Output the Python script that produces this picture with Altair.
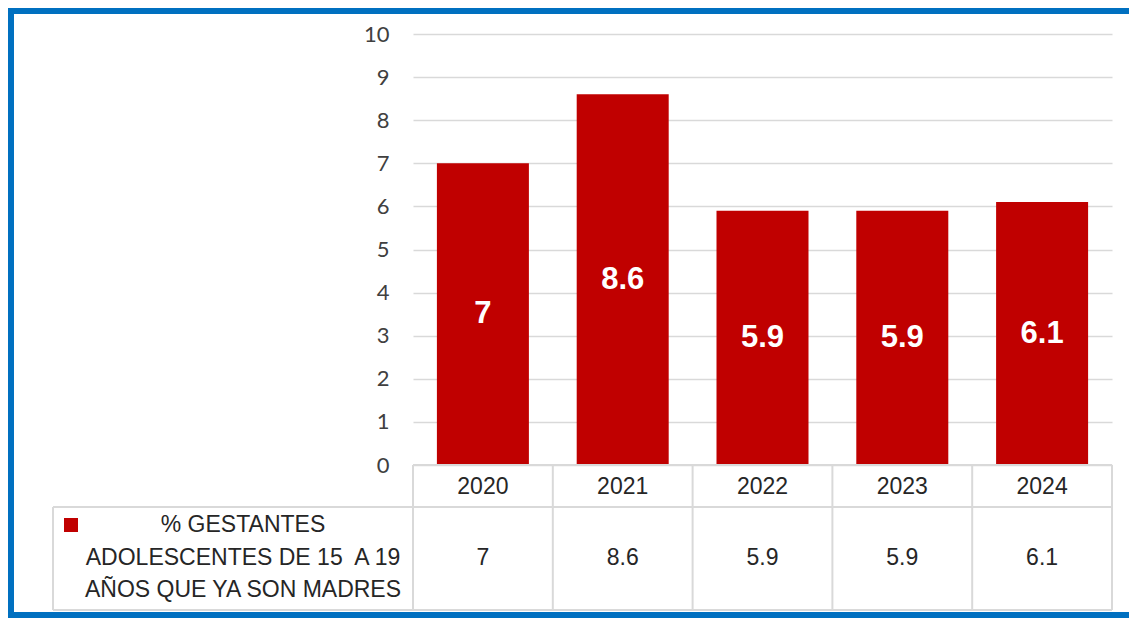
import altair as alt
import pandas as pd

# ---- data ----
years = [2020, 2021, 2022, 2023, 2024]
values = [7, 8.6, 5.9, 5.9, 6.1]
series_label = "% GESTANTES\nADOLESCENTES DE 15\u00a0 A 19\nAÑOS QUE YA SON MADRES"
y_ticks = [0, 1, 2, 3, 4, 5, 6, 7, 8, 9, 10]

# ---- layout (in data units of the scales) ----
X_MIN, X_MAX = years[0] - 0.5, years[-1] + 0.5
PX_PER_X = 699 / (X_MAX - X_MIN)
PX_PER_Y = 431 / 10
HEADER_BOTTOM = -42 / PX_PER_Y
TABLE_BOTTOM = -145 / PX_PER_Y
LEGEND_LEFT = X_MIN - 360 / PX_PER_X
Y_HEADER_TEXT = -22 / PX_PER_Y
Y_ROW_TEXT = -93 / PX_PER_Y
LEGEND_TEXT_X = X_MIN - 170 / PX_PER_X
LEGEND_TEXT_Y = -60 / PX_PER_Y
SWATCH_X = X_MIN - 342 / PX_PER_X
SWATCH_Y = -60 / PX_PER_Y

RED = "#C00000"
GRID = "#D9D9D9"
TXT = "#262626"

df = pd.DataFrame({"year": years, "value": values})

xs = alt.Scale(domain=[X_MIN, X_MAX], nice=False, zero=False, padding=0)
ys = alt.Scale(domain=[TABLE_BOTTOM, 10], nice=False, zero=False, padding=0)

base = alt.Chart(df)

bars = base.mark_bar(size=92, color=RED).encode(
    x=alt.X("year:Q", scale=xs, axis=None),
    y=alt.Y("value:Q", scale=ys,
            axis=alt.Axis(values=y_ticks, grid=True, gridColor=GRID, gridWidth=1.5,
                          domain=False, ticks=False, labelPadding=24,
                          labelFont="Lato", labelFontSize=22, labelColor="#404040",
                          title=None)),
)

bar_labels = base.transform_calculate(mid="datum.value / 2").mark_text(
    font="Liberation Sans", fontSize=31, fontWeight="bold", color="white", baseline="middle"
).encode(
    x=alt.X("year:Q", scale=xs),
    y=alt.Y("mid:Q", scale=ys),
    text=alt.Text("value:Q"),
)

# table lines
lines = []
lines.append({"x": X_MIN, "x2": X_MAX, "y": 0, "y2": 0})
lines.append({"x": LEGEND_LEFT, "x2": X_MAX, "y": HEADER_BOTTOM, "y2": HEADER_BOTTOM})
lines.append({"x": LEGEND_LEFT, "x2": X_MAX, "y": TABLE_BOTTOM, "y2": TABLE_BOTTOM})
for k in range(len(years) + 1):
    xv = X_MIN + k
    lines.append({"x": xv, "x2": xv, "y": 0, "y2": TABLE_BOTTOM})
lines.append({"x": LEGEND_LEFT, "x2": LEGEND_LEFT, "y": HEADER_BOTTOM, "y2": TABLE_BOTTOM})
lines_df = pd.DataFrame(lines)

table_lines = alt.Chart(lines_df).mark_rule(color=GRID, strokeWidth=2).encode(
    x=alt.X("x:Q", scale=xs), x2="x2:Q",
    y=alt.Y("y:Q", scale=ys), y2="y2:Q",
)

header_text = base.transform_calculate(yy=str(Y_HEADER_TEXT)).mark_text(
    font="Liberation Sans", fontSize=23, color=TXT, baseline="middle"
).encode(
    x=alt.X("year:Q", scale=xs),
    y=alt.Y("yy:Q", scale=ys),
    text=alt.Text("year:N"),
)

row_text = base.transform_calculate(yy=str(Y_ROW_TEXT)).mark_text(
    font="Liberation Sans", fontSize=23, color=TXT, baseline="middle"
).encode(
    x=alt.X("year:Q", scale=xs),
    y=alt.Y("yy:Q", scale=ys),
    text=alt.Text("value:Q"),
)

legend_df = pd.DataFrame({"x": [LEGEND_TEXT_X], "y": [LEGEND_TEXT_Y], "label": [series_label],
                          "sx": [SWATCH_X], "sy": [SWATCH_Y]})
legend_text = alt.Chart(legend_df).mark_text(
    font="Liberation Sans", fontSize=23, color=TXT, baseline="middle", align="center",
    lineBreak="\n", lineHeight=32.5
).encode(
    x=alt.X("x:Q", scale=xs),
    y=alt.Y("y:Q", scale=ys),
    text="label:N",
)
swatch = alt.Chart(legend_df).mark_square(size=196, color=RED, opacity=1).encode(
    x=alt.X("sx:Q", scale=xs),
    y=alt.Y("sy:Q", scale=ys),
)

frame = alt.Chart(legend_df).mark_rect(filled=False, stroke="#0070C0", strokeWidth=6).encode(
    x=alt.value(-402), x2=alt.value(760),
    y=alt.value(-23), y2=alt.value(581),
)

chart = alt.layer(
    bars, table_lines, bar_labels, header_text, row_text, legend_text, swatch, frame
).properties(
    width=699, height=576,
    padding={"left": 405, "top": 26, "right": 17, "bottom": 8},
    autosize=alt.AutoSizeParams(type="none"),
    background="white",
).configure_view(stroke=None)

chart.save("out.html", embed_options={"renderer": "svg", "actions": False})
